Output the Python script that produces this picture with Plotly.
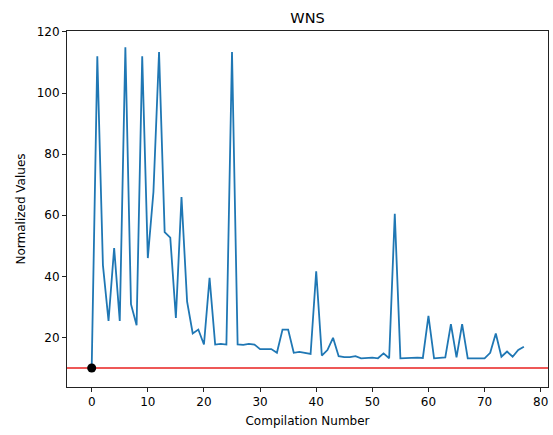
import plotly.graph_objects as go

# Data
compilation = list(range(78))
wns_values = [
    10.0, 112.0, 43.7, 25.4, 49.3, 25.4, 115.0, 30.9, 24.0, 112.0,
    46.0, 67.6, 113.4, 54.5, 52.7, 26.4, 66.0, 31.7, 21.3, 22.6,
    17.7, 39.5, 17.7, 17.9, 17.7, 113.4, 17.7, 17.6, 17.9, 17.7,
    16.2, 16.2, 16.2, 15.0, 22.6, 22.6, 15.0, 15.3, 14.9, 14.6,
    41.7, 14.1, 15.9, 19.9, 13.9, 13.6, 13.6, 13.9, 13.2, 13.4,
    13.4, 13.2, 14.8, 13.2, 60.5, 13.2, 13.3, 13.4, 13.4, 13.3,
    27.1, 13.2, 13.3, 13.5, 24.4, 13.5, 24.4, 13.2, 13.2, 13.2,
    13.2, 15.0, 21.3, 13.7, 15.4, 13.7, 15.9, 17.0,
]
threshold = 10.0
best_x = [0]
best_y = [10.0]
x_ticks = [0, 10, 20, 30, 40, 50, 60, 70, 80]
y_ticks = [20, 40, 60, 80, 100, 120]

FONT = "DejaVu Sans"

fig = go.Figure()
fig.add_trace(go.Scatter(
    x=compilation, y=wns_values, mode="lines",
    line=dict(color="#1f77b4", width=1.8), showlegend=False,
))
fig.add_trace(go.Scatter(
    x=best_x, y=best_y, mode="markers",
    marker=dict(color="black", size=9), showlegend=False,
))
fig.add_shape(type="line", xref="paper", x0=0, x1=1, yref="y", y0=threshold, y1=threshold,
              line=dict(color="#e8201f", width=1.5), layer="below")

fig.update_layout(
    width=553, height=435,
    margin=dict(l=67, r=5, t=31, b=48),
    paper_bgcolor="white", plot_bgcolor="white",
    font=dict(family=FONT, size=12, color="black"),
    title=dict(text="WNS", x=0.5, xref="paper", xanchor="center", y=1 - 18 / 435, yanchor="middle",
               font=dict(family=FONT, size=14.5, color="black")),
    xaxis=dict(
        range=[-4.4, 81.3], tickvals=x_ticks, ticks="outside", ticklen=4, tickwidth=1,
        tickcolor="#222", showline=True, linecolor="#222", linewidth=1, mirror=True,
        showgrid=False, zeroline=False,
        title=dict(text="Compilation Number", font=dict(family=FONT, size=12), standoff=8),
        tickfont=dict(family=FONT, size=12),
    ),
    yaxis=dict(
        range=[3.8, 120.3], tickvals=y_ticks, ticks="outside", ticklen=4, tickwidth=1,
        tickcolor="#222", showline=True, linecolor="#222", linewidth=1, mirror=True,
        showgrid=False, zeroline=False,
        title=dict(text="Normalized Values", font=dict(family=FONT, size=12), standoff=8),
        tickfont=dict(family=FONT, size=12),
    ),
)

fig.write_html("out.html")
